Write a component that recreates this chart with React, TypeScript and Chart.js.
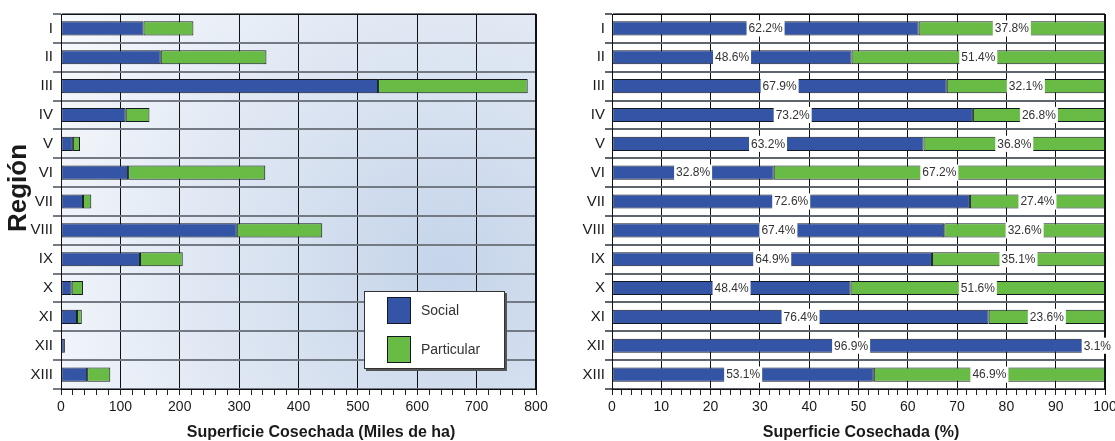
import React, { useEffect, useRef } from 'react';
import { Chart, registerables } from 'chart.js';

Chart.register(...registerables);

// ---------- data ----------
const regions = ['I', 'II', 'III', 'IV', 'V', 'VI', 'VII', 'VIII', 'IX', 'X', 'XI', 'XII', 'XIII'];
const socialMiles = [139, 168, 534, 109, 20, 113, 37, 296, 133, 18, 27, 6.5, 44];
const particularMiles = [84, 178, 252, 40, 12, 231, 14, 144, 72, 19, 8, 0.2, 39];
const socialPct = [62.2, 48.6, 67.9, 73.2, 63.2, 32.8, 72.6, 67.4, 64.9, 48.4, 76.4, 96.9, 53.1];
const particularPct = [37.8, 51.4, 32.1, 26.8, 36.8, 67.2, 27.4, 32.6, 35.1, 51.6, 23.6, 3.1, 46.9];
const seriesNames = ['Social', 'Particular'];
const xTitleMiles = 'Superficie Cosechada (Miles de ha)';
const xTitlePct = 'Superficie Cosechada (%)';
const yTitle = 'Región';

// ---------- styles ----------
const FONT = '"Liberation Sans", Arial, Helvetica, sans-serif';
const BLUE = '#3454a5';
const GREEN = '#68bc46';
const BAR_BORDER = '#141820';
const TEXT = '#1a1a1a';

type TitleItem = { text: string; x: number; y: number; font: string; rotate?: boolean; baseline?: CanvasTextBaseline };

function titlePlugin(items: TitleItem[]) {
  return {
    id: 'titles',
    afterDraw(chart: any) {
      const ctx = chart.ctx as CanvasRenderingContext2D;
      for (const it of items) {
        ctx.save();
        ctx.fillStyle = TEXT;
        ctx.font = it.font;
        ctx.textAlign = 'center';
        ctx.textBaseline = it.baseline || 'alphabetic';
        ctx.translate(it.x, it.y);
        if (it.rotate) ctx.rotate(-Math.PI / 2);
        ctx.fillText(it.text, 0, 0);
        ctx.restore();
      }
    },
  };
}

const gradientPlugin = {
  id: 'bgGradient',
  beforeDraw(chart: any) {
    const { ctx, chartArea } = chart;
    const { left, top, right, bottom } = chartArea;
    const g = ctx.createRadialGradient(right - 90, bottom - 120, 10, right - 90, bottom - 120, 470);
    g.addColorStop(0, '#c6d5ea');
    g.addColorStop(0.5, '#dfe7f3');
    g.addColorStop(1, '#f9fbfd');
    ctx.save();
    ctx.fillStyle = g;
    ctx.fillRect(left, top, right - left, bottom - top);
    ctx.restore();
  },
};

const frameTopPlugin = {
  id: 'frameTop',
  beforeDatasetsDraw(chart: any) {
    const { ctx, chartArea } = chart;
    ctx.save();
    ctx.strokeStyle = '#111';
    ctx.lineWidth = 1;
    ctx.beginPath();
    ctx.moveTo(chartArea.left, Math.round(chartArea.top) + 0.5);
    ctx.lineTo(chartArea.right, Math.round(chartArea.top) + 0.5);
    ctx.moveTo(Math.round(chartArea.right) - 0.5, chartArea.top);
    ctx.lineTo(Math.round(chartArea.right) - 0.5, chartArea.bottom);
    ctx.stroke();
    ctx.restore();
  },
};

const legendPlugin = {
  id: 'boxLegend',
  afterDraw(chart: any) {
    const { ctx, chartArea } = chart;
    const x = chartArea.left + 303;
    const y = chartArea.top + 277;
    const w = 141;
    const h = 78;
    ctx.save();
    ctx.fillStyle = '#555';
    ctx.fillRect(x + 2, y + 2, w, h);
    ctx.fillStyle = '#ffffff';
    ctx.fillRect(x, y, w, h);
    ctx.strokeStyle = '#333';
    ctx.lineWidth = 1;
    ctx.strokeRect(x + 0.5, y + 0.5, w - 1, h - 1);
    const colors = [BLUE, GREEN];
    const offs = [6, 45];
    ctx.font = `14px ${FONT}`;
    ctx.textBaseline = 'middle';
    ctx.textAlign = 'left';
    seriesNames.forEach((name, i) => {
      ctx.fillStyle = colors[i];
      ctx.fillRect(x + 23, y + offs[i], 24, 27);
      ctx.strokeStyle = BAR_BORDER;
      ctx.strokeRect(x + 23.5, y + offs[i] + 0.5, 23, 26);
      ctx.fillStyle = '#333';
      ctx.fillText(name, x + 57, y + offs[i] + 14);
    });
    ctx.restore();
  },
};

const pctLabelPlugin = {
  id: 'pctLabels',
  afterDatasetsDraw(chart: any) {
    const ctx = chart.ctx as CanvasRenderingContext2D;
    ctx.save();
    ctx.font = `12px "Liberation Sans Narrow", ${FONT}`;
    ctx.textAlign = 'center';
    ctx.textBaseline = 'middle';
    chart.data.datasets.forEach((ds: any, di: number) => {
      const meta = chart.getDatasetMeta(di);
      meta.data.forEach((el: any, i: number) => {
        const v = ds.data[i];
        const txt = v.toFixed(1) + '%';
        const cx = (el.x + el.base) / 2;
        const tw = ctx.measureText(txt).width;
        ctx.fillStyle = '#ffffff';
        ctx.fillRect(cx - tw / 2 - 2, el.y - el.height / 2 - 1, tw + 4, el.height + 2);
        ctx.fillStyle = '#333';
        ctx.fillText(txt, cx, el.y + 0.5);
      });
    });
    ctx.restore();
  },
};

function makeDatasets(a: number[], b: number[]) {
  const common = {
    borderColor: BAR_BORDER,
    borderWidth: 1,
    borderSkipped: false as const,
    categoryPercentage: 1,
    barPercentage: 0.49,
  };
  return [
    { label: seriesNames[0], data: a, backgroundColor: BLUE, ...common },
    { label: seriesNames[1], data: b, backgroundColor: GREEN, ...common },
  ];
}

function baseOptions(max: number, step: number, major: number, yWidth: number, padRight: number, yTick: number, hGrid: string) {
  return {
    indexAxis: 'y' as const,
    responsive: false,
    animation: false as const,
    events: [],
    layout: { padding: { left: 0, top: 14, right: padRight, bottom: 0 } },
    plugins: { legend: { display: false }, tooltip: { enabled: false } },
    scales: {
      x: {
        stacked: true,
        min: 0,
        max,
        ticks: {
          stepSize: step,
          autoSkip: false,
          maxRotation: 0,
          padding: 4,
          color: TEXT,
          font: { family: FONT, size: 14 },
          callback: (v: any) => (Math.round(v) % major === 0 ? String(v) : ''),
        },
        grid: {
          color: (c: any) => (c.tick && Math.round(c.tick.value) % major === 0 ? '#111' : 'rgba(0,0,0,0)'),
          tickColor: '#222',
          tickLength: 6,
          lineWidth: 1,
        },
        border: { color: '#111', width: 1 },
        afterFit: (s: any) => {
          s.height = 52;
          s.paddingLeft = 0;
          s.paddingRight = 0;
        },
      },
      y: {
        stacked: true,
        ticks: {
          padding: 0,
          color: TEXT,
          font: { family: FONT, size: 15 },
        },
        grid: { color: hGrid, lineWidth: 2, tickLength: yTick, offset: true },
        border: { color: '#111', width: 1 },
        afterFit: (s: any) => {
          s.width = yWidth;
          s.paddingTop = 0;
          s.paddingBottom = 0;
        },
      },
    },
  };
}

function LeftChart() {
  const ref = useRef<HTMLCanvasElement>(null);
  useEffect(() => {
    if (!ref.current) return;
    const chart = new Chart(ref.current, {
      type: 'bar',
      data: { labels: regions, datasets: makeDatasets(socialMiles, particularMiles) },
      options: baseOptions(800, 20, 100, 61, 24, 8, '#737a83') as any,
      plugins: [
        gradientPlugin,
        frameTopPlugin,
        legendPlugin,
        titlePlugin([
          { text: xTitleMiles, x: 321, y: 437, font: `bold 16px ${FONT}` },
          { text: yTitle, x: 19, y: 188, font: `bold 26px ${FONT}`, rotate: true, baseline: 'middle' },
        ]),
      ],
    });
    return () => chart.destroy();
  }, []);
  return <canvas ref={ref} width={560} height={441} style={{ position: 'absolute', left: 0, top: 0 }} />;
}

function RightChart() {
  const ref = useRef<HTMLCanvasElement>(null);
  useEffect(() => {
    if (!ref.current) return;
    const chart = new Chart(ref.current, {
      type: 'bar',
      data: { labels: regions, datasets: makeDatasets(socialPct, particularPct) },
      options: baseOptions(100, 2, 10, 56, 10, 7, '#5f656d') as any,
      plugins: [
        frameTopPlugin,
        pctLabelPlugin,
        titlePlugin([{ text: xTitlePct, x: 305, y: 437, font: `bold 16px ${FONT}` }]),
      ],
    });
    return () => chart.destroy();
  }, []);
  return <canvas ref={ref} width={559} height={441} style={{ position: 'absolute', left: 556, top: 0 }} />;
}

export default function App() {
  return (
    <div style={{ position: 'absolute', left: 0, top: 0, width: 1115, height: 441, background: '#ffffff', overflow: 'hidden' }}>
      <LeftChart />
      <RightChart />
    </div>
  );
}
